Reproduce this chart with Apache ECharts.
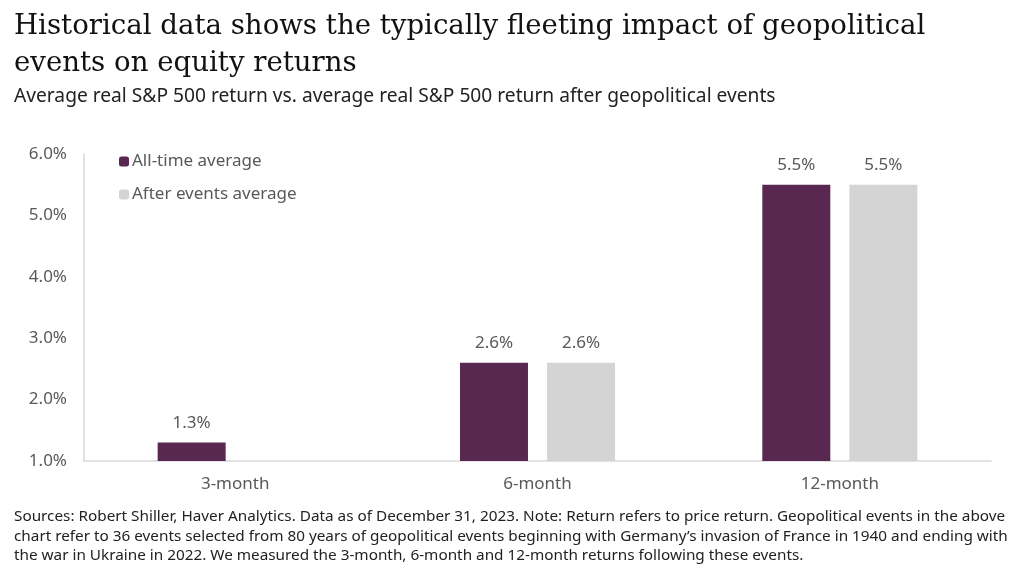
<!DOCTYPE html>
<html>
<head>
<meta charset="utf-8">
<script src="https://cdn.jsdelivr.net/npm/echarts@6/dist/echarts.min.js"></script>
<style>html,body{margin:0;padding:0;background:#fff;}#c{width:1024px;height:580px;}</style>
</head>
<body>
<div id="c"></div>
<script>
const categories = ['3-month', '6-month', '12-month'];
const allTimeAverage = [1.3, 2.6, 5.5];
const afterEventsAverage = [null, 2.6, 5.5];
const seriesNames = ['All-time average', 'After events average'];
const yTicks = { min: 1.0, max: 6.0, interval: 1.0 };

const titleLines = ['Historical data shows the typically fleeting impact of geopolitical', 'events on equity returns'];
const subtitle = 'Average real S&P 500 return vs. average real S&P 500 return after geopolitical events';
const footer = [
  'Sources: Robert Shiller, Haver Analytics. Data as of December 31, 2023. Note: Return refers to price return. Geopolitical events in the above',
  'chart refer to 36 events selected from 80 years of geopolitical events beginning with Germany\u2019s invasion of France in 1940 and ending with',
  'the war in Ukraine in 2022. We measured the 3-month, 6-month and 12-month returns following these events.'
];

const sans = '"Noto Sans", "Open Sans", sans-serif';
const chart = echarts.init(document.getElementById('c'));
const labelOpt = {
  show: true, position: 'top', distance: 11, color: '#595959', fontSize: 17, fontFamily: sans,
  formatter: p => p.value == null ? '' : p.value.toFixed(1) + '%'
};
chart.setOption({
  animation: false,
  graphic: [
    { type: 'text', left: 14, top: 8, style: { text: titleLines.join('\n'), font: '27.6px "DejaVu Serif", serif', lineHeight: 37, fill: '#111' } },
    { type: 'text', left: 14, top: 87, style: { text: subtitle, font: '19.2px ' + sans, fill: '#222' } },
    { type: 'text', left: 14, top: 507, style: { text: footer.join('\n'), font: '15.3px ' + sans, lineHeight: 19.5, fill: '#222' } }
  ],
  legend: {
    orient: 'vertical', left: 114, top: 148, itemWidth: 10, itemHeight: 10, itemGap: 16,
    textStyle: { color: '#595959', fontSize: 17, fontFamily: sans, padding: [0, 0, 0, -2] },
    data: seriesNames
  },
  grid: { left: 84, right: 33, top: 154, bottom: 119 },
  xAxis: {
    type: 'category', data: categories,
    axisLine: { lineStyle: { color: '#d9d9d9', width: 1.5 } },
    axisTick: { show: false },
    axisLabel: { color: '#595959', fontSize: 17, fontFamily: sans, margin: 15 }
  },
  yAxis: {
    type: 'value', min: yTicks.min, max: yTicks.max, interval: yTicks.interval,
    axisLine: { show: true, lineStyle: { color: '#d9d9d9', width: 1.5 } },
    splitLine: { show: false },
    axisLabel: { color: '#595959', fontSize: 17, fontFamily: sans, margin: 17, formatter: v => v.toFixed(1) + '%' }
  },
  series: [
    { name: seriesNames[0], type: 'bar', data: allTimeAverage, barWidth: 68, barGap: '28%', itemStyle: { color: '#582850' }, label: labelOpt },
    { name: seriesNames[1], type: 'bar', data: afterEventsAverage, barWidth: 68, itemStyle: { color: '#d4d4d4' }, label: labelOpt }
  ]
});
</script>
</body>
</html>
